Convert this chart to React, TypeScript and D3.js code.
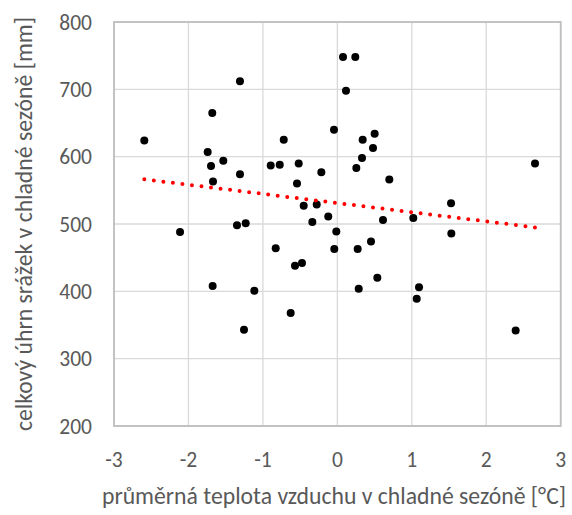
import React from "react";
import * as d3 from "d3";

// Mean air temperature in the cold season [°C]
const temperature = [
  -1.308, -1.68, -2.593, -0.72, -0.045, -1.742, -1.697, -1.532, -0.895, -0.774,
  -0.519, -0.215, -1.308, -1.67, -0.542, -0.452, -0.277, -0.336, -0.122, -1.348,
  -1.231, 0.076, 0.241, 0.116, 0.34, 0.501, 0.479, 0.331, 0.255, 0.698,
  2.655, 1.527, 0.613, 1.02, -2.113, -0.014, -0.041, -0.828, -0.475, -0.569,
  -1.675, -1.115, -0.627, -1.254, 1.531, 0.273, 0.452, 0.537, 0.287, 1.097,
  1.066, 2.395,
];

// Total precipitation in the cold season [mm]
const precipitation = [
  712, 665, 624, 625, 640, 607, 586, 594, 587, 588,
  590, 577, 574, 563, 560, 527, 529, 503, 511, 498,
  501, 748, 748, 698, 625, 634, 613, 598, 583, 566,
  590, 531, 506, 509, 488, 489, 463, 464, 442, 438,
  408, 401, 368, 343, 486, 463, 474, 420, 404, 406,
  389, 342,
];

const xTicks = [-3, -2, -1, 0, 1, 2, 3];
const yTicks = [200, 300, 400, 500, 600, 700, 800];

const xTitle = "průměrná teplota vzduchu v chladné sezóně [°C]";
const yTitle = "celkový úhrn srážek v chladné sezóně [mm]";

const W = 572;
const H = 515;
const plot = { left: 114, right: 560.7, top: 22, bottom: 426 };
const font = "Carlito, Calibri, Lato, 'Open Sans', sans-serif";
const textColor = "#595959";
const tickSize = 21.5;
const titleSize = 23.7;

export default function App() {
  const x = d3.scaleLinear().domain([-3, 3]).range([plot.left, plot.right]);
  const y = d3.scaleLinear().domain([200, 800]).range([plot.bottom, plot.top]);

  const points = temperature.map((t, i) => ({ t, p: precipitation[i] }));

  // Least-squares linear trend
  const mx = d3.mean(temperature) as number;
  const my = d3.mean(precipitation) as number;
  let sxy = 0;
  let sxx = 0;
  points.forEach(({ t, p }) => {
    sxy += (t - mx) * (p - my);
    sxx += (t - mx) * (t - mx);
  });
  const slope = sxy / sxx;
  const intercept = my - slope * mx;
  const [tMin, tMax] = d3.extent(temperature) as [number, number];
  const trend = d3
    .line<number>()
    .x((t) => x(t))
    .y((t) => y(intercept + slope * t))([tMin, tMax]);

  return (
    <svg
      width={W}
      height={H}
      style={{ position: "absolute", left: 0, top: 0, background: "#fff" }}
      fontFamily={font}
    >
      {/* gridlines */}
      {xTicks.map((t) => (
        <line
          key={"gx" + t}
          x1={x(t)}
          x2={x(t)}
          y1={plot.top}
          y2={plot.bottom}
          stroke="#D9D9D9"
          strokeWidth={1.3}
        />
      ))}
      {yTicks.map((t) => (
        <line
          key={"gy" + t}
          x1={plot.left}
          x2={plot.right}
          y1={y(t)}
          y2={y(t)}
          stroke="#D9D9D9"
          strokeWidth={1.3}
        />
      ))}
      <rect
        x={plot.left}
        y={plot.top}
        width={plot.right - plot.left}
        height={plot.bottom - plot.top}
        fill="none"
        stroke="#BFBFBF"
        strokeWidth={1.8}
      />

      {/* tick labels */}
      {xTicks.map((t) => (
        <text
          key={"tx" + t}
          x={x(t)}
          y={467}
          textAnchor="middle"
          fontSize={tickSize}
          fill={textColor}
        >
          {d3.format("d")(t).replace("−", "-")}
        </text>
      ))}
      {yTicks.map((t) => (
        <text
          key={"ty" + t}
          x={92}
          y={y(t)}
          dy="0.36em"
          textAnchor="end"
          fontSize={tickSize}
          fill={textColor}
        >
          {t}
        </text>
      ))}

      {/* axis titles */}
      <text
        x={334}
        y={504}
        textAnchor="middle"
        fontSize={titleSize}
        fill={textColor}
      >
        {xTitle}
      </text>
      <text
        transform={`translate(32, ${(plot.top + plot.bottom) / 2}) rotate(-90)`}
        textAnchor="middle"
        fontSize={titleSize}
        fill={textColor}
      >
        {yTitle}
      </text>

      {/* observations */}
      {points.map((d, i) => (
        <circle key={i} cx={x(d.t)} cy={y(d.p)} r={4} fill="#000" />
      ))}

      {/* linear trend */}
      <path
        d={trend ?? ""}
        fill="none"
        stroke="#FF0000"
        strokeWidth={4}
        strokeLinecap="round"
        strokeDasharray="0 9.6"
      />
    </svg>
  );
}
